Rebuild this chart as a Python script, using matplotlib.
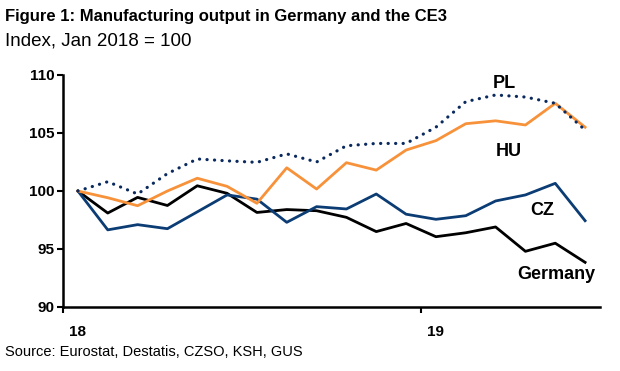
import matplotlib
matplotlib.use("Agg")
import matplotlib.pyplot as plt
from matplotlib.ticker import FixedLocator, NullFormatter, FixedFormatter

plt.rcParams['font.family'] = ['Liberation Sans', 'DejaVu Sans']

months = list(range(18))  # Jan 2018 .. Jun 2019
germany = [100.0, 98.1, 99.45, 98.75, 100.45, 99.8, 98.15, 98.4, 98.3, 97.73, 96.5, 97.2, 96.06, 96.4, 96.9, 94.8, 95.5, 93.85]
cz = [100.0, 96.65, 97.1, 96.75, 98.2, 99.66, 99.3, 97.3, 98.65, 98.45, 99.74, 98.0, 97.56, 97.87, 99.14, 99.66, 100.66, 97.44]
hu = [100.0, 99.42, 98.73, 100.0, 101.1, 100.4, 98.94, 102.0, 100.17, 102.44, 101.8, 103.53, 104.34, 105.8, 106.05, 105.69, 107.56, 105.5]
pl = [100.0, 100.8, 99.74, 101.5, 102.76, 102.6, 102.47, 103.2, 102.5, 103.9, 104.1, 104.1, 105.5, 107.7, 108.28, 108.1, 107.56, 105.26]

year_ticks = [0, 12]
year_labels = ['18', '19']
y_ticks = [90, 95, 100, 105, 110]

fig = plt.figure(figsize=(6.2, 3.71), dpi=100)
ax = fig.add_axes([63/620, 1-307/371, (600-63)/620, (307-75)/371])

navy = '#0B3C74'
orange = '#F7923A'
ax.plot(months, germany, color='black', lw=2.0)
ax.plot(months, cz, color=navy, lw=2.0)
ax.plot(months, hu, color=orange, lw=2.0)
ax.plot(months, pl, color='#0A2A5E', lw=2.3, linestyle=(0, (0.05, 2.3)), dash_capstyle='round')

ax.set_xlim(-0.5, 17.5)
ax.set_ylim(90, 110)
ax.set_yticks(y_ticks)
ax.set_yticklabels([str(v) for v in y_ticks], fontweight='bold', fontsize=11)
ax.xaxis.set_major_locator(FixedLocator([-0.5, 11.5]))
ax.xaxis.set_major_formatter(NullFormatter())
ax.xaxis.set_minor_locator(FixedLocator(year_ticks))
ax.xaxis.set_minor_formatter(FixedFormatter(year_labels))
ax.tick_params(axis='x', which='major', direction='out', length=4, width=1.5)
ax.tick_params(axis='x', which='minor', length=0, pad=13, labelsize=11)
for lab in ax.xaxis.get_minorticklabels():
    lab.set_fontweight('bold')
ax.tick_params(axis='y', direction='out', length=4, width=1.5, pad=2)
for s in ['top', 'right']:
    ax.spines[s].set_visible(False)
for s in ['left', 'bottom']:
    ax.spines[s].set_linewidth(1.8)

lab_kw = dict(fontsize=13, fontweight='bold', ha='center', va='center')
ax.text(14.3, 109.3, 'PL', **lab_kw)
ax.text(14.45, 103.4, 'HU', **lab_kw)
ax.text(15.55, 98.3, 'CZ', **lab_kw)
ax.text(16.05, 92.8, 'Germany', **lab_kw)

fig.text(5/620, 1-17/371, 'Figure 1: Manufacturing output in Germany and the CE3',
         fontsize=12, fontweight='bold', va='center', ha='left')
fig.text(5/620, 1-41/371, 'Index, Jan 2018 = 100', fontsize=13.5, va='center', ha='left')
fig.text(5/620, 1-352/371, 'Source: Eurostat, Destatis, CZSO, KSH, GUS', fontsize=10.5, va='center', ha='left')

fig.savefig('out.png', dpi=100)
